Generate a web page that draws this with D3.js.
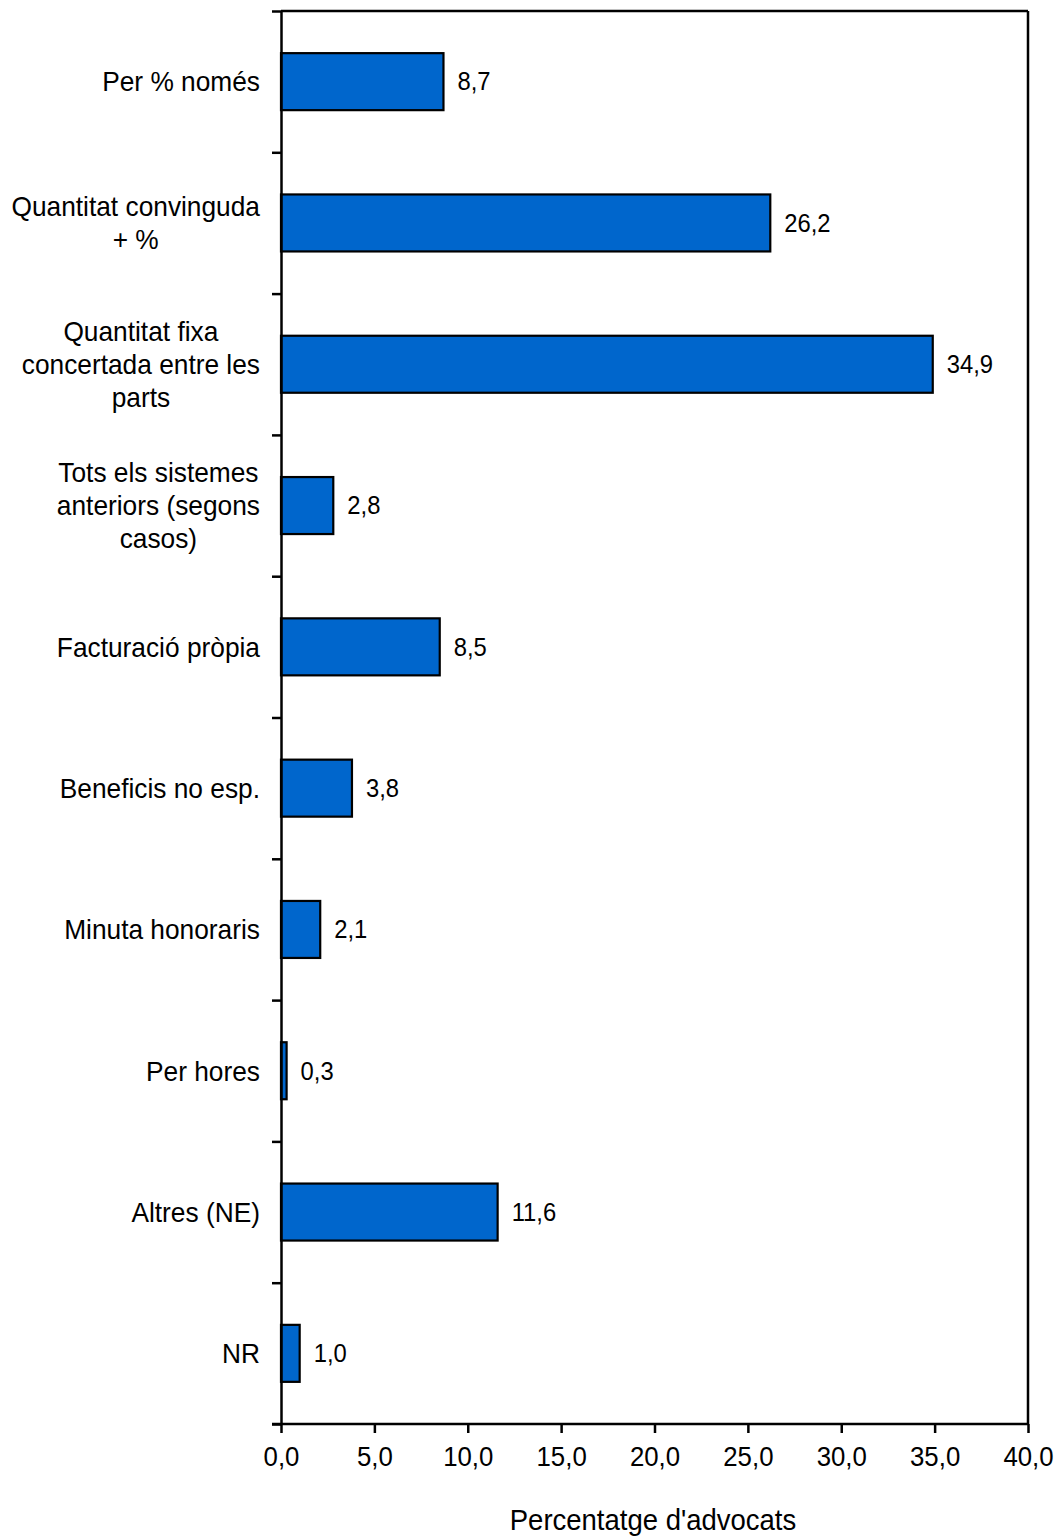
<!DOCTYPE html>
<html>
<head>
<meta charset="utf-8">
<script src="https://cdn.jsdelivr.net/npm/d3@7"></script>
<style>
  html, body { margin: 0; padding: 0; background: #fff; }
  text { font-family: "Liberation Sans", Arial, sans-serif; fill: #000; }
</style>
</head>
<body>
<svg id="chart" width="1061" height="1536"></svg>
<script>
const categories = [
  ["Per % només"],
  ["Quantitat convinguda", "+ %"],
  ["Quantitat fixa", "concertada entre les", "parts"],
  ["Tots els sistemes", "anteriors (segons", "casos)"],
  ["Facturació pròpia"],
  ["Beneficis no esp."],
  ["Minuta honoraris"],
  ["Per hores"],
  ["Altres (NE)"],
  ["NR"]
];
const values = [8.7, 26.2, 34.9, 2.8, 8.5, 3.8, 2.1, 0.3, 11.6, 1.0];
const xTicks = [0, 5, 10, 15, 20, 25, 30, 35, 40];
const xTitle = "Percentatge d'advocats";

const svg = d3.select("#chart");
const mLeft = 281, mRight = 1028, mTop = 11, mBottom = 1424;
const sy = 1.06;
const fmt = v => d3.format(".1f")(v).replace(".", ",");

const x = d3.scaleLinear().domain([0, 40]).range([mLeft, mRight]);
const yBand = d3.scaleBand().domain(d3.range(categories.length)).range([mTop, mBottom]);
const barH = 57;

// helper: text placed with translate + slight vertical stretch
function placeText(sel, px, py) {
  sel.attr("transform", `translate(${px},${py}) scale(1,${sy})`);
}

// frame top & right
svg.append("line").attr("x1", mLeft).attr("x2", mRight).attr("y1", mTop).attr("y2", mTop)
  .attr("stroke", "#000").attr("stroke-width", 2.5);
svg.append("line").attr("x1", mRight).attr("x2", mRight).attr("y1", mTop).attr("y2", mBottom)
  .attr("stroke", "#000").attr("stroke-width", 2.5);

// bars
svg.append("g").selectAll("rect").data(values).join("rect")
  .attr("x", x(0))
  .attr("y", (d, i) => yBand(i) + yBand.bandwidth() / 2 - barH / 2)
  .attr("width", d => x(d) - x(0))
  .attr("height", barH)
  .attr("fill", "#0066CC")
  .attr("stroke", "#000")
  .attr("stroke-width", 2.2);

// value labels
svg.append("g").selectAll("text").data(values).join("text")
  .attr("dy", "0.35em")
  .attr("font-size", 23.8)
  .text(d => fmt(d))
  .each(function(d, i) {
    placeText(d3.select(this), x(d) + 14, yBand(i) + yBand.bandwidth() / 2);
  });

// x axis
const xAxis = d3.axisBottom(x).tickValues(xTicks).tickFormat(fmt).tickSize(9).tickSizeOuter(0).tickPadding(14);
const gx = svg.append("g").attr("transform", `translate(0,${mBottom})`).call(xAxis);
gx.select(".domain").attr("stroke-width", 2.5).attr("d", `M${mLeft - 9},0H${mRight}`);
gx.selectAll(".tick line").attr("stroke-width", 2.5);
gx.selectAll(".tick text")
  .attr("font-size", 25.8)
  .attr("font-family", "Liberation Sans, Arial, sans-serif")
  .attr("transform", `scale(1,${sy})`)
  .attr("y", 23 / sy);

// y axis: ticks at band boundaries
const yEdge = d3.scaleLinear().domain([0, categories.length]).range([mTop, mBottom]);
const yAxis = d3.axisLeft(yEdge).tickValues(d3.range(categories.length + 1)).tickFormat("").tickSize(9).tickSizeOuter(0);
const gy = svg.append("g").attr("transform", `translate(${mLeft},0)`).call(yAxis);
gy.select(".domain").attr("stroke-width", 2.5);
gy.selectAll(".tick line").attr("stroke-width", 2.5);

// category labels (centered block, right edge at ~260)
const lineH = 33;
const labelRight = 260;
categories.forEach((lines, i) => {
  const cy = yBand(i) + yBand.bandwidth() / 2;
  const g = svg.append("g");
  const texts = lines.map((ln, j) => g.append("text")
    .attr("font-size", 26.3)
    .attr("text-anchor", "middle")
    .attr("dy", "0.35em")
    .text(ln));
  const maxW = d3.max(texts, t => t.node().getComputedTextLength());
  texts.forEach((t, j) => placeText(t, labelRight - maxW / 2, cy + (j - (lines.length - 1) / 2) * lineH));
});

// x title
const title = svg.append("text")
  .attr("dy", "0.35em")
  .attr("text-anchor", "middle")
  .attr("font-size", 27.5)
  .text(xTitle);
placeText(title, 653, 1520);
</script>
</body>
</html>
